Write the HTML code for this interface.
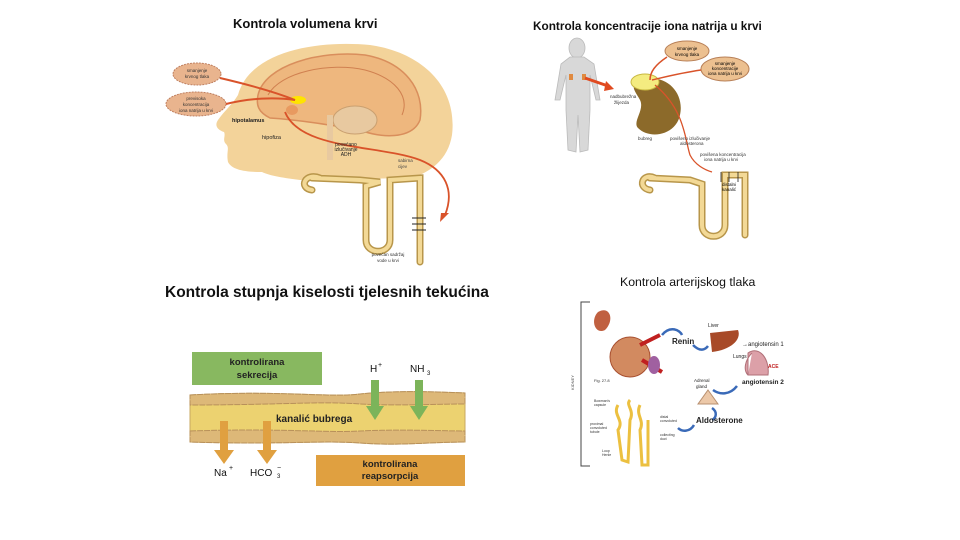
<!DOCTYPE html>
<html><head><meta charset="utf-8"><style>
html,body{margin:0;padding:0;background:#fff;}
svg{display:block;font-family:"Liberation Sans",sans-serif;}
</style></head><body>
<svg width="960" height="540" viewBox="0 0 960 540" xmlns="http://www.w3.org/2000/svg">
<!-- TOP LEFT -->
<text x="233" y="28" font-size="13" font-weight="bold" fill="#111">Kontrola volumena krvi</text>
<!-- head -->
<path d="M238,95 C250,50 320,40 370,45 C420,52 458,85 452,135 C448,160 430,172 412,178 L300,180 C285,178 270,176 262,172 C245,172 232,170 228,162 C226,152 230,148 226,144 C222,140 226,136 224,132 C218,130 214,126 218,120 C225,110 232,105 238,95 Z" fill="#f3d39a"/>
<path d="M258,95 C265,65 320,50 365,55 C405,62 425,90 420,120 C412,140 380,138 360,130 C330,125 300,120 270,118 C258,112 256,105 258,95 Z" fill="#eeb77e" stroke="#d98e5c" stroke-width="1.5"/>
<path d="M268,95 C280,72 330,62 365,70 C395,78 410,96 402,115" fill="none" stroke="#d08050" stroke-width="1"/>
<ellipse cx="355" cy="120" rx="22" ry="14" fill="#e8c9a0" stroke="#caa070"/>
<rect x="327" y="115" width="6" height="45" fill="#e8c9a0"/>
<ellipse cx="298" cy="100" rx="8" ry="4" fill="#ffe400"/>
<ellipse cx="292" cy="110" rx="6" ry="5" fill="#e89a60"/>
<ellipse cx="197" cy="74" rx="24" ry="11" fill="#e9b48e" stroke="#c08060" stroke-dasharray="2,1"/>
<text x="197" y="72" font-size="4.5" text-anchor="middle" fill="#333">smanjenje</text>
<text x="197" y="78" font-size="4.5" text-anchor="middle" fill="#333">krvnog tlaka</text>
<ellipse cx="196" cy="104" rx="30" ry="12" fill="#e9b48e" stroke="#c08060" stroke-dasharray="2,1"/>
<text x="196" y="100" font-size="4.5" text-anchor="middle" fill="#333">previsoka</text>
<text x="196" y="106" font-size="4.5" text-anchor="middle" fill="#333">koncentracija</text>
<text x="196" y="112" font-size="4.5" text-anchor="middle" fill="#333">iona natrija u krvi</text>
<path d="M220,78 C250,85 275,92 295,100" stroke="#d9532a" stroke-width="2" fill="none"/>
<path d="M226,104 C250,98 275,97 295,100" stroke="#d9532a" stroke-width="2" fill="none"/>
<path d="M285,112 C300,150 380,145 420,160 C445,170 455,190 445,215" stroke="#d9532a" stroke-width="1.8" fill="none"/>
<polygon points="441,213 449,213 440,222" fill="#d9532a"/>
<text x="232" y="122" font-size="5.5" font-weight="bold" fill="#222">hipotalamus</text>
<text x="262" y="139" font-size="5.5" fill="#222">hipofiza</text>
<text x="346" y="146" font-size="5" text-anchor="middle" fill="#222">povećano</text>
<text x="346" y="151" font-size="5" text-anchor="middle" fill="#222">izlučivanje</text>
<text x="346" y="156" font-size="5" text-anchor="middle" fill="#222">ADH</text>
<text x="398" y="162" font-size="4.5" fill="#444">sabirna</text>
<text x="398" y="168" font-size="4.5" fill="#444">cijev</text>
<g fill="none" stroke="#b8964a" stroke-width="7" stroke-linecap="round">
<path d="M320,178 C305,172 298,188 312,190 M312,178 L360,180 L380,182 L366,186 L366,240 C366,255 390,255 390,240 L390,180 L420,178 L420,262"/>
</g>
<g fill="none" stroke="#f3d996" stroke-width="4" stroke-linecap="round">
<path d="M320,178 C305,172 298,188 312,190 M312,178 L360,180 L380,182 L366,186 L366,240 C366,255 390,255 390,240 L390,180 L420,178 L420,262"/>
</g>
<path d="M412,218h14M412,224h14M412,230h14" stroke="#222" stroke-width="1"/>
<text x="388" y="256" font-size="4.5" text-anchor="middle" fill="#333">povećan sadržaj</text>
<text x="388" y="262" font-size="4.5" text-anchor="middle" fill="#333">vode u krvi</text>

<!-- TOP RIGHT -->
<text x="533" y="30" font-size="11.8" font-weight="bold" fill="#111">Kontrola koncentracije iona natrija u krvi</text>
<g fill="#d8d8d8" stroke="#bbb" stroke-width="0.8">
<ellipse cx="577" cy="48" rx="8" ry="10"/>
<path d="M570,57 L584,57 L594,64 L600,100 L596,100 L590,75 L590,110 L588,150 L580,152 L578,115 L576,152 L568,150 L566,110 L566,75 L560,100 L555,100 L561,64 Z"/>
</g>
<rect x="569" y="74" width="4" height="6" fill="#e08a40"/><rect x="582" y="74" width="4" height="6" fill="#e08a40"/>
<path d="M585,78 L608,86" stroke="#e04a20" stroke-width="3"/>
<polygon points="606,81 614,89 604,91" fill="#e04a20"/>
<path d="M640,80 C665,72 685,92 680,115 C676,135 650,140 638,128 C632,122 645,110 640,100 C636,92 628,85 640,80Z" fill="#8c6a2a"/>
<ellipse cx="645" cy="82" rx="14" ry="8" fill="#f4ec80" stroke="#c8b840"/>
<ellipse cx="687" cy="51" rx="22" ry="10" fill="#ecc090" stroke="#b88058"/>
<text x="687" y="50" font-size="4.5" text-anchor="middle">smanjenje</text><text x="687" y="56" font-size="4.5" text-anchor="middle">krvnog tlaka</text>
<ellipse cx="725" cy="69" rx="24" ry="12" fill="#ecc090" stroke="#b88058"/>
<text x="725" y="65" font-size="4.5" text-anchor="middle">smanjenje</text><text x="725" y="70" font-size="4.5" text-anchor="middle">koncentracije</text><text x="725" y="75" font-size="4.5" text-anchor="middle">iona natrija u krvi</text>
<path d="M667,57 C655,65 650,72 650,80 M701,70 C680,73 665,77 652,80" stroke="#d9532a" stroke-width="1.5" fill="none"/>
<path d="M655,85 C685,110 685,140 690,155 C695,165 705,170 712,172" stroke="#d9532a" stroke-width="1.3" fill="none"/>
<text x="610" y="98" font-size="4.5" fill="#333">nadbubrežna</text><text x="614" y="104" font-size="4.5" fill="#333">žlijezda</text>
<text x="638" y="140" font-size="4.5" fill="#333">bubreg</text>
<text x="670" y="140" font-size="4.5" fill="#333">povišeno izlučivanje</text><text x="680" y="145" font-size="4.5" fill="#333">aldosterona</text>
<text x="700" y="156" font-size="4.5" fill="#333">povišena koncentracija</text><text x="704" y="161" font-size="4.5" fill="#333">iona natrija u krvi</text>
<g fill="none" stroke="#b8964a" stroke-width="7" stroke-linecap="round">
<path d="M655,178 C642,172 637,188 650,190 M650,178 L690,180 L702,184 L702,225 C702,240 725,240 725,225 L725,175 L745,175 L745,235"/>
</g>
<g fill="none" stroke="#f3d996" stroke-width="4" stroke-linecap="round">
<path d="M655,178 C642,172 637,188 650,190 M650,178 L690,180 L702,184 L702,225 C702,240 725,240 725,225 L725,175 L745,175 L745,235"/>
</g>
<path d="M721,182v-10M729,182v-10M738,182v-10" stroke="#222" stroke-width="0.8"/>
<text x="722" y="186" font-size="4.5">distalni</text><text x="722" y="191" font-size="4.5">kanalić</text>

<!-- BOTTOM LEFT -->
<text x="165" y="297" font-size="15.5" font-weight="bold" fill="#111">Kontrola stupnja kiselosti tjelesnih tekućina</text>
<rect x="192" y="352" width="130" height="33" fill="#88b860"/>
<text x="257" y="365" font-size="9.5" font-weight="bold" text-anchor="middle" fill="#222">kontrolirana</text>
<text x="257" y="378" font-size="9.5" font-weight="bold" text-anchor="middle" fill="#222">sekrecija</text>
<path d="M190,395 C280,390 330,398 360,394 C400,390 440,392 465,393 L465,442 C430,442 400,446 360,443 C320,440 280,445 190,442 Z" fill="#ecd270" stroke="#c8a860"/>
<path d="M190,395 C280,390 330,398 360,394 C400,390 440,392 465,393 L465,404 C430,404 400,406 360,404 C320,401 280,405 190,405 Z" fill="#ddb878" stroke="#b8905a" stroke-dasharray="6,1"/>
<path d="M190,431 C280,428 330,433 360,431 C400,429 440,431 465,431 L465,442 C430,442 400,446 360,443 C320,440 280,445 190,442 Z" fill="#ddb878" stroke="#b8905a" stroke-dasharray="6,1"/>
<text x="276" y="422" font-size="10" font-weight="bold" fill="#222">kanalić bubrega</text>
<text x="370" y="372" font-size="10" fill="#111">H</text><text x="378" y="367" font-size="7" fill="#111">+</text>
<text x="410" y="372" font-size="10" fill="#111">NH</text><text x="427" y="375" font-size="6" fill="#111">3</text>
<g fill="#7cb45a"><rect x="371" y="380" width="8" height="28"/><polygon points="366,406 384,406 375,420"/>
<rect x="415" y="380" width="8" height="28"/><polygon points="410,406 428,406 419,420"/></g>
<g fill="#e0a040"><rect x="220" y="421" width="8" height="30"/><polygon points="214,450 234,450 224,464"/>
<rect x="263" y="421" width="8" height="30"/><polygon points="257,450 277,450 267,464"/></g>
<text x="214" y="476" font-size="10" fill="#111">Na</text><text x="229" y="470" font-size="7" fill="#111">+</text>
<text x="250" y="476" font-size="10" fill="#111">HCO</text><text x="277" y="478" font-size="6" fill="#111">3</text><text x="277" y="470" font-size="7" fill="#111">−</text>
<rect x="316" y="455" width="149" height="31" fill="#e0a040"/>
<text x="390" y="467" font-size="9.5" font-weight="bold" text-anchor="middle" fill="#222">kontrolirana</text>
<text x="390" y="479" font-size="9.5" font-weight="bold" text-anchor="middle" fill="#222">reapsorpcija</text>

<!-- BOTTOM RIGHT -->
<text x="620" y="286" font-size="12.3" fill="#111">Kontrola arterijskog tlaka</text>
<path d="M590,302 H581 V466 H590" fill="none" stroke="#444" stroke-width="1"/>
<text x="574" y="390" font-size="4" fill="#444" transform="rotate(-90 574 390)">KIDNEY</text>
<path d="M598,312 C610,305 615,320 605,330 C595,335 590,320 598,312Z" fill="#c06040"/>
<ellipse cx="630" cy="357" rx="20" ry="20" fill="#d28a60" stroke="#a85030"/>
<path d="M640,345 L660,335 M642,360 L662,372" stroke="#c02020" stroke-width="4"/>
<ellipse cx="654" cy="365" rx="6" ry="9" fill="#a060a0"/>
<text x="672" y="344" font-size="8" font-weight="bold" fill="#222">Renin</text>
<path d="M662,335 C670,325 680,330 682,335 M693,345 C700,352 705,350 708,346" stroke="#3a6ab8" stroke-width="2.5" fill="none"/>
<text x="708" y="327" font-size="5" fill="#222">Liver</text>
<path d="M710,333 L738,330 C742,340 730,350 712,352Z" fill="#a84a28"/>
<text x="742" y="346" font-size="6" fill="#222">→angiotensin 1</text>
<text x="733" y="358" font-size="5" fill="#222">Lungs</text>
<path d="M748,353 C760,345 770,360 768,375 L748,375Z M752,353 C745,360 743,370 748,375" fill="#dca0a8" stroke="#b07078"/>
<text x="768" y="368" font-size="5" font-weight="bold" fill="#c02020">ACE</text>
<text x="742" y="384" font-size="6.5" font-weight="bold" fill="#222">angiotensin 2</text>
<path d="M737,386 C730,395 720,395 713,390" stroke="#3a6ab8" stroke-width="2.5" fill="none"/>
<text x="694" y="382" font-size="4.5" fill="#222">Adrenal</text><text x="696" y="388" font-size="4.5" fill="#222">gland</text>
<path d="M708,390 L718,404 L698,404Z" fill="#ecc8a8" stroke="#b89070"/>
<path d="M712,408 C718,412 716,418 712,420" stroke="#3a6ab8" stroke-width="2.5" fill="none"/>
<text x="696" y="423" font-size="8" font-weight="bold" fill="#222">Aldosterone</text>
<path d="M694,425 C690,432 682,432 678,428" stroke="#3a6ab8" stroke-width="2.5" fill="none"/>
<g fill="none" stroke="#ecc040" stroke-width="3">
<path d="M618,405 C612,415 625,420 618,430 L622,460 L628,462 L630,420 C635,410 625,405 630,400"/>
<path d="M640,405 C635,415 645,420 640,430 L642,465 L648,465 L648,420"/>
</g>
<text x="594" y="402" font-size="3.5" fill="#333">Bowman's</text><text x="594" y="406" font-size="3.5" fill="#333">capsule</text>
<text x="590" y="425" font-size="3.5" fill="#333">proximal</text><text x="590" y="429" font-size="3.5" fill="#333">convoluted</text><text x="590" y="433" font-size="3.5" fill="#333">tubule</text>
<text x="602" y="452" font-size="3.5" fill="#333">Loop</text><text x="602" y="456" font-size="3.5" fill="#333">Henle</text>
<text x="660" y="418" font-size="3.5" fill="#333">distal</text><text x="660" y="422" font-size="3.5" fill="#333">convoluted</text>
<text x="660" y="436" font-size="3.5" fill="#333">collecting</text><text x="660" y="440" font-size="3.5" fill="#333">duct</text>
<text x="594" y="382" font-size="4" fill="#333">Fig. 27.8</text>
</svg>
</body></html>
